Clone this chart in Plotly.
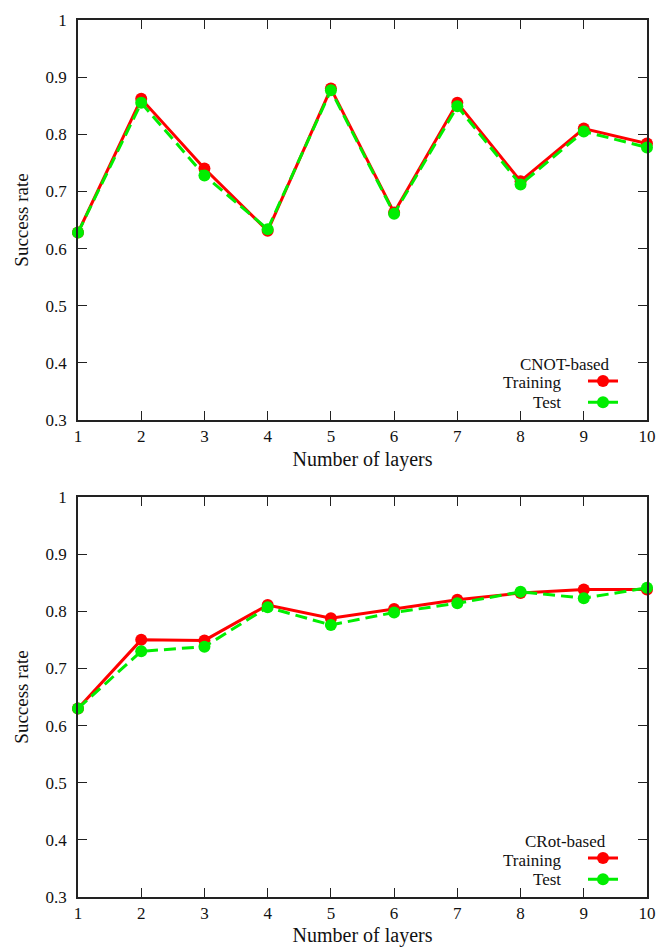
import plotly.graph_objects as go

layers = [1, 2, 3, 4, 5, 6, 7, 8, 9, 10]
cnot_training = [0.628, 0.862, 0.740, 0.631, 0.880, 0.663, 0.855, 0.718, 0.810, 0.784]
cnot_test = [0.628, 0.855, 0.728, 0.634, 0.877, 0.661, 0.849, 0.712, 0.805, 0.777]
crot_training = [0.630, 0.750, 0.749, 0.811, 0.788, 0.804, 0.820, 0.832, 0.838, 0.838]
crot_test = [0.630, 0.730, 0.738, 0.807, 0.776, 0.798, 0.814, 0.834, 0.823, 0.841]
y_ticks = [0.3, 0.4, 0.5, 0.6, 0.7, 0.8, 0.9, 1]
y_tick_labels = ["0.3", "0.4", "0.5", "0.6", "0.7", "0.8", "0.9", "1"]
panel_titles = ["CNOT-based", "CRot-based"]
series_names = ["Training", "Test"]

FONT = "Liberation Serif"
TXT = "#111111"
RED = "#ff0000"
GREEN = "#00ee00"

W, H = 656, 947
PL, PR = 78, 647          # plot left/right in px
TOP1, BOT1 = 20, 420      # top panel in px
TOP2, BOT2 = 497, 897     # bottom panel in px
ml, mr, mt, mb = PL, W - PR, TOP1, H - BOT2
plot_h = H - mt - mb
plot_w = W - ml - mr


def px_x(xw):
    return (xw - PL) / plot_w


def px_y(yw):
    return (BOT2 - yw) / plot_h


top_dom = [px_y(BOT1), 1.0]
bot_dom = [0.0, px_y(TOP2)]

fig = go.Figure()

panels = [
    (cnot_training, cnot_test, "x", "y", "legend"),
    (crot_training, crot_test, "x2", "y2", "legend2"),
]
for tr, te, xa, ya, lg in panels:
    fig.add_trace(go.Scatter(
        x=layers, y=tr, mode="lines+markers", name=" ",
        line=dict(color=RED, width=3),
        marker=dict(color=RED, size=12),
        xaxis=xa, yaxis=ya, legend=lg, cliponaxis=False,
    ))
    fig.add_trace(go.Scatter(
        x=layers, y=te, mode="lines+markers", name=" ",
        line=dict(color=GREEN, width=3, dash="12px,6px"),
        marker=dict(color=GREEN, size=12),
        xaxis=xa, yaxis=ya, legend=lg, cliponaxis=False,
    ))

axis_common = dict(
    showline=True, linecolor="#222", linewidth=1.5, mirror="allticks",
    ticks="inside", ticklen=9, tickwidth=1, tickcolor="#222",
    showgrid=False, zeroline=False, automargin=False,
    tickfont=dict(family=FONT, size=17, color=TXT),
)
xa = dict(axis_common, range=[1, 10], tickvals=layers, ticktext=[str(v) for v in layers],
          title=dict(text="Number of layers", font=dict(family=FONT, size=20, color=TXT), standoff=7))
ya = dict(axis_common, range=[0.3, 1], tickvals=y_ticks, ticktext=y_tick_labels,
          ticklabelstandoff=6,
          title=dict(text="Success rate", font=dict(family=FONT, size=19, color=TXT), standoff=12))

leg_common = dict(xanchor="right", yanchor="middle", bgcolor="rgba(0,0,0,0)",
                  font=dict(family=FONT, size=14, color=TXT), tracegroupgap=0,
                  itemwidth=30, x=px_x(632))

annotations = []
for k, bot in enumerate([BOT1, BOT2]):
    row1 = bot - 37
    row2 = bot - 18
    annotations.append(dict(text=panel_titles[k], x=px_x(565), y=px_y(row1 - 19),
                            xanchor="center", yanchor="middle"))
    annotations.append(dict(text=series_names[0], x=px_x(563), y=px_y(row1),
                            xanchor="right", yanchor="middle"))
    annotations.append(dict(text=series_names[1], x=px_x(563), y=px_y(row2),
                            xanchor="right", yanchor="middle"))
for a in annotations:
    a.update(xref="paper", yref="paper", showarrow=False,
             font=dict(family=FONT, size=17, color=TXT))

fig.update_layout(
    width=W, height=H,
    margin=dict(l=ml, r=mr, t=mt, b=mb),
    plot_bgcolor="white", paper_bgcolor="white",
    xaxis=dict(xa, domain=[0, 1], anchor="y"),
    yaxis=dict(ya, domain=top_dom, anchor="x"),
    xaxis2=dict(xa, domain=[0, 1], anchor="y2"),
    yaxis2=dict(ya, domain=bot_dom, anchor="x2"),
    legend=dict(leg_common, y=px_y(BOT1 - 28)),
    legend2=dict(leg_common, y=px_y(BOT2 - 28)),
    annotations=annotations,
)

fig.write_html(
    "out.html",
    config={"displayModeBar": False},
    post_script="document.body.style.margin='0';document.body.style.overflow='hidden';",
)
